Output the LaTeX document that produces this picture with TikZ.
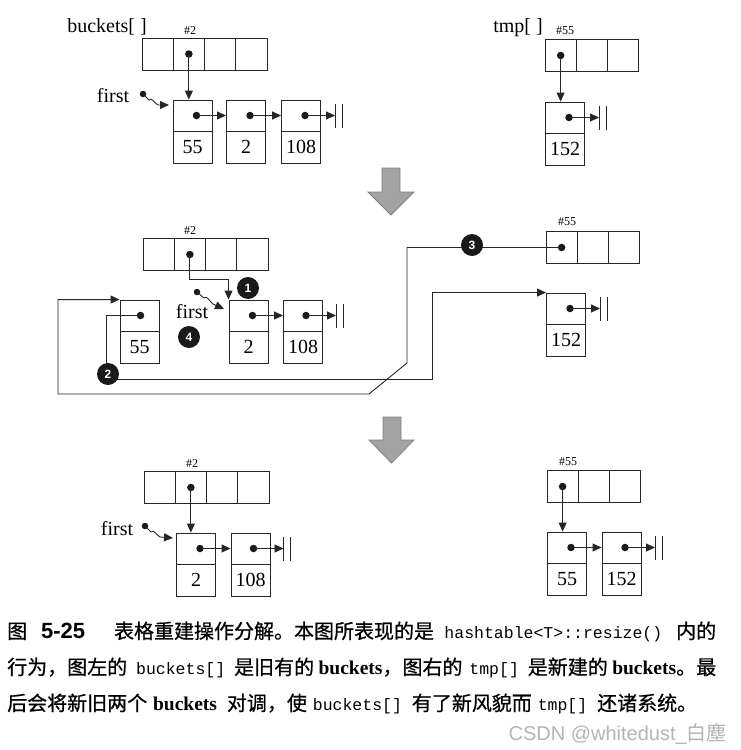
\documentclass[tikz,border=0pt]{standalone}
\usepackage{fontspec}
\setmainfont{Liberation Serif}
\setmonofont{Liberation Mono}
\newfontfamily\cjk{Noto Sans CJK SC}
\newfontfamily\cjkm{Noto Sans CJK SC}[FakeBold=0.7]
\newfontfamily\hel{Liberation Sans}
\usetikzlibrary{arrows.meta}
\definecolor{arrfill}{HTML}{A3A3A3}
\definecolor{arrdraw}{HTML}{808080}
\definecolor{wm}{HTML}{B4B4B4}
\newcommand\mkarr[4]{%
  \foreach \i in {1,...,#4}{\node[cellbox] (#1-\i) at ({#2+31.25*(\i-0.5)},#3) {};}}
\newcommand\mklist[5]{%
  \node[ptrbox] (#1p) at (#2,{#3+15.5}) {};
  \node[valbox] (#1v) at (#2,{#3+47}) {#4};
  \node[dotn] (#1d) at ({#2+#5},{#3+15.5}) {};}
\newcommand\mknull[1]{%
  \draw[ptr] (#1.center) -- ++(30,0) coordinate (#1t);
  \draw[ln] ([yshift=12pt]#1t) -- ([yshift=-12pt]#1t);
  \draw[ln] ([xshift=7pt,yshift=12pt]#1t) -- ([xshift=7pt,yshift=-12pt]#1t);}
\newcommand\cc[1]{{\mdseries\ttfamily\fontsize{16.5}{16.5}\selectfont #1}}
\newcommand\bb[1]{{\rmfamily\bfseries\fontsize{19.5}{19.5}\selectfont #1}}
\begin{document}
\begin{tikzpicture}[x=1pt,y=-1pt,
  every node/.style={inner sep=0pt},
  ln/.style={line width=0.9pt, draw=black!85},
  cellbox/.style={draw=black!85, line width=0.9pt, minimum width=31.25pt, minimum height=32pt},
  ptrbox/.style={draw=black!85, line width=0.9pt, minimum width=39pt, minimum height=31pt},
  valbox/.style={draw=black!85, line width=0.9pt, minimum width=39pt, minimum height=32pt, font=\fontsize{20}{20}\selectfont},
  dotn/.style={circle, fill=black!90, minimum size=7.5pt},
  fdot/.style={circle, fill=black!90, minimum size=6.5pt},
  ptr/.style={line width=0.9pt, draw=black!85, -{Triangle[length=9pt,width=8pt]}},
  numc/.style={circle, fill=black!90, minimum size=22pt, text=white, font=\hel\bfseries\fontsize{12}{12}\selectfont},
  lbl/.style={font=\fontsize{20}{20}\selectfont},
  idx/.style={font=\fontsize{12}{12}\selectfont},
  garrow/.style={fill=arrfill, draw=arrdraw, line width=0.8pt},
]
\fill[white] (0,0) rectangle (741,750);
\useasboundingbox (0,0) rectangle (741,750);

% ---------- top left ----------
\node[lbl] (bk) at (107,27) {buckets[\ ]};
\node[idx] (i2a) at (190,31) {\#2};
\mkarr{a}{142}{54}{4}
\node[dotn] (ad) at (a-2) {};
\mklist{A}{192.5}{100}{55}{4}
\mklist{B}{246}{100}{2}{4}
\mklist{C}{301}{100}{108}{4}
\draw[ptr] (ad.center) -- (ad.center |- Ap.north);
\draw[ptr] (Ad.center) -- (Bp.west);
\draw[ptr] (Bd.center) -- (Cp.west);
\mknull{Cd}
\node[lbl] (f1) at (113,96) {first};
\node[fdot] (f1d) at (143,94) {};
\coordinate (f1t) at (169,105);
\draw[ptr] (f1d.center) -- (149,100) .. controls (152,97) and (154,103) .. (158,105) -- (f1t);

% ---------- top right ----------
\node[lbl] (tp) at (518,28) {tmp[\ ]};
\node[idx] (i55a) at (565,31) {\#55};
\mkarr{t}{545}{55.5}{3}
\node[dotn] (td) at (t-1) {};
\mklist{D}{565}{102}{152}{4}
\draw[ptr] (td.center) -- (td.center |- Dp.north);
\mknull{Dd}

% ---------- gray arrows ----------
\draw[garrow] (382,168) -- (400,168) -- (400,192) -- (414,192) -- (391,215) -- (368,192) -- (382,192) -- cycle;
\draw[garrow] (383,417) -- (401,417) -- (401,440) -- (414,440) -- (391.5,463) -- (369,440) -- (383,440) -- cycle;

% ---------- middle ----------
\node[idx] (i2b) at (190,231) {\#2};
\mkarr{m}{143}{254.5}{4}
\node[dotn] (md) at (m-2) {};
\mklist{G}{139.5}{300}{55}{1}
\mklist{E}{248.5}{300}{2}{4}
\mklist{F}{303}{300}{108}{3}
\draw[ptr] (Ed.center) -- (Fp.west);
\mknull{Fd}
\node[idx] (i55b) at (567,222) {\#55};
\mkarr{n}{546}{247.5}{3}
\node[dotn] (nd) at (n-1) {};
\mklist{H}{566}{293}{152}{4}
\mknull{Hd}
% step 1
\draw[ptr] (md.center) -- ++(0,25) -| (Ep.north west);
\node[numc] (c1) at (248,288) {1};
% first
\node[lbl] (f2) at (192,312) {first};
\node[fdot] (f2d) at (197,292) {};
\coordinate (f2t) at (224,309);
\draw[ptr] (f2d.center) -- (204,298) .. controls (207,295) and (209,301) .. (213,304) -- (f2t);
\node[numc] (c4) at (189,337) {4};
% step 2
\coordinate (p2a) at (106,379);
\coordinate (p2b) at (432,379);
\draw[ptr] (Gd.center) -| (p2a) -- (p2b) |- (Hp.north west);
% step 3
\coordinate (p3a) at (407,247.5);
\coordinate (p3b) at (407,363);
\coordinate (p3c) at (369,394);
\coordinate (p3d) at (58,394);
\draw[ptr] (nd.center) -- (p3a) -- (p3b) -- (p3c) -- (p3d) |- (Gp.north west);
\node[numc] (c2) at (108,374) {2};
\node[numc] (c3) at (472,245) {3};

% ---------- bottom left ----------
\node[idx] (i2c) at (192,464) {\#2};
\mkarr{b}{144}{487.5}{4}
\node[dotn] (bd) at (b-2) {};
\mklist{I}{196}{533}{2}{4}
\mklist{J}{250.5}{533}{108}{3}
\draw[ptr] (bd.center) -- (bd.center |- Ip.north);
\draw[ptr] (Id.center) -- (Jp.west);
\mknull{Jd}
\node[lbl] (f3) at (117,529) {first};
\node[fdot] (f3d) at (145,526) {};
\coordinate (f3t) at (173,538);
\draw[ptr] (f3d.center) -- (151,532) .. controls (154,529) and (156,535) .. (160,537) -- (f3t);

% ---------- bottom right ----------
\node[idx] (i55c) at (568,462) {\#55};
\mkarr{r}{547}{486.5}{3}
\node[dotn] (rd) at (r-1) {};
\mklist{K}{567}{532}{55}{4}
\mklist{L}{621.5}{532}{152}{3.5}
\draw[ptr] (rd.center) -- (rd.center |- Kp.north);
\draw[ptr] (Kd.center) -- (Lp.west);
\mknull{Ld}

% ---------- caption ----------
\node[anchor=base west] (cap1) at (7,638.5) {\fontsize{20}{20}\selectfont\cjkm\makebox[709pt][s]{图\hspace{0pt plus 12fil}{\hel\bfseries\fontsize{22}{22}\selectfont 5-25}\hspace{0pt plus 25fil}表格重建操作分解。本图所表现的是\hspace{0pt plus 9fil}\cc{hashtable<T>::resize()}\hspace{0pt plus 12fil}内的}};
\node[anchor=base west] (cap2) at (7,674.5) {\fontsize{20}{20}\selectfont\cjkm\makebox[709pt][s]{行为，图左的\hspace{6pt plus 1fil}\cc{buckets[]}\hspace{6pt plus 1fil}是旧有的\hspace{3pt plus 0.5fil}\bb{buckets}，图右的\hspace{4pt plus 1fil}\cc{tmp[]}\hspace{6pt plus 1fil}是新建的\hspace{3pt plus 0.5fil}\bb{buckets}。最}};
\node[anchor=base west] (cap3) at (7,710.5) {\fontsize{20}{20}\selectfont\cjkm\makebox[690pt][s]{后会将新旧两个\hspace{5pt plus 1fil}\bb{buckets}\hspace{9pt plus 1fil}对调，使\hspace{5pt plus 1fil}\cc{buckets[]}\hspace{9pt plus 1fil}有了新风貌而\hspace{5pt plus 1fil}\cc{tmp[]}\hspace{9pt plus 1fil}还诸系统。}};
\node[anchor=base east, text=wm] (wmk) at (727,740) {\hel\fontsize{20}{20}\selectfont CSDN @whitedust\_{\cjk 白塵}};
\end{tikzpicture}
\end{document}
